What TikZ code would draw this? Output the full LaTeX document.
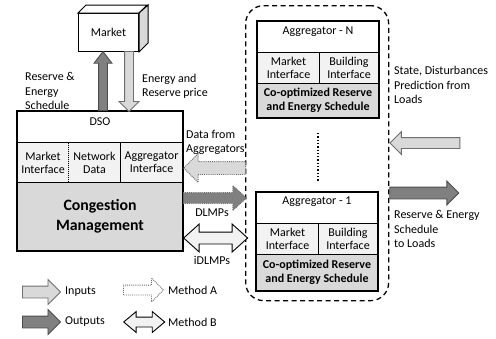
\documentclass[tikz,border=0pt]{standalone}
\usepackage{fontspec}
\setmainfont{Carlito}
\usetikzlibrary{shapes.arrows}

\definecolor{ingray}{HTML}{D9D9D9}
\definecolor{outgray}{HTML}{808080}
\definecolor{cellgray}{HTML}{F2F2F2}
\definecolor{edgegray}{HTML}{6E6E6E}

\tikzset{
	txt/.style={font=\fontsize{12}{14.5}\selectfont, inner sep=0pt, align=left},
	box/.style={draw, line width=1pt, fill=white, inner sep=0pt, anchor=north west},
	cell/.style={draw, densely dotted, line width=1pt, fill=cellgray, inner sep=0pt, anchor=north west, align=center, font=\fontsize{12}{13}\selectfont},
	schedbox/.style={draw, line width=1pt, fill=ingray, inner sep=0pt, anchor=north west, align=center, font=\fontsize{12}{14}\selectfont\bfseries},
	frame/.style={draw, line width=1.1pt},
	fat/.style={single arrow, inner xsep=0pt, line width=0.9pt},
	fatfat/.style={double arrow, inner xsep=0pt, line width=0.9pt},
	inarrow/.style={fat, fill=ingray, draw=edgegray},
	outarrow/.style={fat, fill=outgray, draw=black!70},
	inarrowA/.style={fat, fill=ingray, draw=edgegray, densely dotted},
	outarrowA/.style={fat, fill=outgray, draw=edgegray, densely dotted},
	methodA/.style={fat, fill=white, draw=edgegray, densely dotted},
	methodB/.style={fatfat, fill=cellgray, draw=black},
}

\begin{document}
\begin{tikzpicture}[x=1pt,y=-1pt]
	\useasboundingbox (0,0) rectangle (496,338);

	% market
	\node[box, minimum width=60, minimum height=38] (market) at (78,13) {};
	\node[txt] (marketname) at (market.center) {Market};
	\draw[line width=1pt, fill=white] (market.north west) -- ++(8,-8) -- ++(61,0) -- (market.north east) -- cycle;
	\draw[line width=1pt, fill=ingray] (market.north east) -- ++(9,-8) -- ++(0,38) -- (market.south east) -- cycle;

	% DSO
	\node[box, minimum width=165, minimum height=31] (dsotitle) at (17,111) {};
	\node[txt] (dsoname) at ([yshift=-11pt]dsotitle.north) {DSO};
	\node[cell, minimum width=51, minimum height=40] (dsomkt) at (17,142) {Market\\Interface};
	\node[cell, minimum width=52, minimum height=40] (dsonet) at (68,142) {Network\\Data};
	\node[cell, minimum width=62, minimum height=40] (dsoagg) at (120,142) {Aggregator\\Interface};
	\node[schedbox, minimum width=165, minimum height=68, font=\fontsize{15.8}{20}\selectfont\bfseries] (cong) at (17,182) {Congestion\\Management};
	\draw[frame] (dsotitle.north west) rectangle (cong.south east);

	% aggregators
	\node[draw, dash pattern=on 5pt off 3.5pt, line width=1.3pt, rounded corners=18pt, minimum width=143, minimum height=295, anchor=north west] (aggs) at (245,5) {};

	\node[box, minimum width=121, minimum height=31] (aggNtitle) at (257,21) {};
	\node[txt] (aggNname) at ([yshift=-11pt]aggNtitle.north) {Aggregator - N};
	\node[cell, minimum width=62, minimum height=31] (aggNmkt) at (257,52) {Market\\Interface};
	\node[cell, minimum width=59, minimum height=31] (aggNbld) at (319,52) {Building\\Interface};
	\node[schedbox, minimum width=121, minimum height=34] (aggNsched) at (257,83) {Co-optimized Reserve\\and Energy Schedule};
	\draw[frame] (aggNtitle.north west) rectangle (aggNsched.south east);

	\node[box, minimum width=121, minimum height=31] (agg1title) at (256,192) {};
	\node[txt] (agg1name) at ([yshift=-10pt]agg1title.north) {Aggregator - 1};
	\node[cell, minimum width=62, minimum height=31] (agg1mkt) at (256,223) {Market\\Interface};
	\node[cell, minimum width=59, minimum height=31] (agg1bld) at (318,223) {Building\\Interface};
	\node[schedbox, minimum width=121, minimum height=36] (agg1sched) at (256,254) {Co-optimized Reserve\\and Energy Schedule};
	\draw[frame] (agg1title.north west) rectangle (agg1sched.south east);

	\draw[dotted, line width=1.3pt, shorten <=15pt, shorten >=10pt] (aggNsched.south) -- (aggNsched.south |- agg1title.north);

	% block arrows
	\node[outarrow, rotate=90, anchor=tail, minimum height=59, inner ysep=4pt, single arrow head extend=4.5pt, single arrow tip angle=75] (upsched) at (103,111) {};
	\node[inarrow, rotate=-90, anchor=tail, minimum height=60, inner ysep=4pt, single arrow head extend=5.5pt] (downprice) at (129,51) {};
	\node[inarrowA, rotate=180, anchor=tip, minimum height=62, inner ysep=6pt, single arrow head extend=8pt] (dataarrow) at (dsoagg.east |- 0,168) {};
	\node[outarrowA, anchor=tail, minimum height=63, inner ysep=5pt, single arrow head extend=7pt, single arrow tip angle=85] (dlmparrow) at (cong.east |- 0,198) {};
	\node[methodB, anchor=west, minimum height=64, inner ysep=5.5pt, double arrow head extend=8pt, double arrow tip angle=84] (idlmparrow) at (cong.east |- 0,238) {};
	\node[inarrow, rotate=180, anchor=tip, minimum height=70, inner ysep=5pt, single arrow head extend=6pt] (statearrow) at (aggs.east |- 0,143) {};
	\node[outarrow, anchor=tail, minimum height=69, inner ysep=5.5pt, single arrow head extend=6pt] (loadarrow) at (aggs.east |- 0,193) {};

	% labels
	\node[txt, anchor=west] (schedlabel) at (25,91) {Reserve \&\\Energy\\Schedule};
	\node[txt, anchor=west] (pricelabel) at (142,86.5) {Energy and\\Reserve price};
	\node[txt, anchor=west] (datalabel) at (186,142.5) {Data from\\Aggregators};
	\node[txt] (dlmplabel) at (212,213) {DLMPs};
	\node[txt] (idlmplabel) at (212,260) {iDLMPs};
	\node[txt, anchor=west] (statelabel) at (394,85) {State, Disturbances\\Prediction from\\Loads};
	\node[txt, anchor=west] (loadlabel) at (394,229) {Reserve \& Energy\\Schedule\\to Loads};

	% legend
	\node[inarrow, anchor=tail, minimum height=38, inner ysep=5.5pt, single arrow head extend=6.5pt] (leginputs) at (22,292) {};
	\node[txt, anchor=west] (leginlabel) at (65,292) {Inputs};
	\node[outarrow, anchor=tail, minimum height=38, inner ysep=5.5pt, single arrow head extend=6.5pt] (legoutputs) at (22,322) {};
	\node[txt, anchor=west] (legoutlabel) at (65,322) {Outputs};
	\node[methodA, anchor=tail, minimum height=40, inner ysep=4.5pt, single arrow head extend=7pt] (legmethA) at (123,290) {};
	\node[txt, anchor=west] (legmethAlabel) at (168,290) {Method A};
	\node[methodB, anchor=west, minimum height=41, inner ysep=4.5pt, double arrow head extend=5.5pt, double arrow tip angle=80] (legmethB) at (123,322) {};
	\node[txt, anchor=west] (legmethBlabel) at (168,322) {Method B};
\end{tikzpicture}
\end{document}
